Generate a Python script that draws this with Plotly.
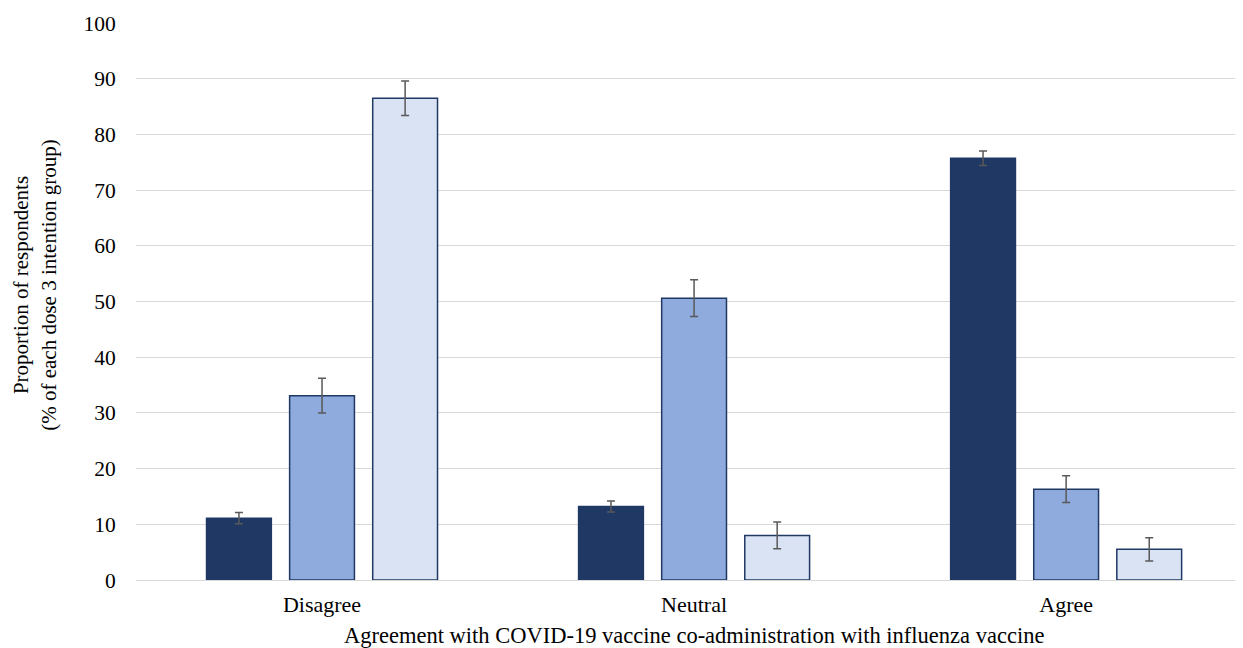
import plotly.graph_objects as go

categories = ["Disagree", "Neutral", "Agree"]
series_names = ["Intend", "Undecided", "Do not intend"]
values_intend = [11.1, 13.2, 75.7]
err_intend = [1.0, 1.0, 1.3]
values_undecided = [33.1, 50.6, 16.3]
err_undecided = [3.1, 3.3, 2.4]
values_notintend = [86.5, 8.0, 5.5]
err_notintend = [3.1, 2.4, 2.1]
y_ticks = [0, 10, 20, 30, 40, 50, 60, 70, 80, 90, 100]

colors = ["#203864", "#8FAADC", "#DAE3F3"]
outline = "#1F3864"
FONT = "Liberation Serif, Times New Roman, serif"

fig = go.Figure()
for name, vals, errs, col in zip(series_names,
                                 [values_intend, values_undecided, values_notintend],
                                 [err_intend, err_undecided, err_notintend],
                                 colors):
    fig.add_trace(go.Bar(
        x=categories, y=vals, name=name,
        marker=dict(color=col, line=dict(color=outline, width=1.5)),
        error_y=dict(type="data", array=errs, visible=True,
                     color="#595959", thickness=1.5, width=4),
        showlegend=False,
    ))

fig.update_layout(
    width=1235, height=640,
    margin=dict(l=128, r=2, t=15, b=68),
    paper_bgcolor="white", plot_bgcolor="white",
    barmode="group", bargap=0.33, bargroupgap=0.22,
    font=dict(family=FONT, size=21, color="#000000"),
    xaxis=dict(range=[-0.5, 2.47], showgrid=False, showline=False,
               ticks="outside", ticklen=0, tickcolor="rgba(0,0,0,0)",
               ticklabelstandoff=5,
               tickfont=dict(family=FONT, size=22, color="#000")),
    yaxis=dict(range=[0, 100], tickvals=y_ticks, showgrid=True,
               gridcolor="#D9D9D9", gridwidth=1, zeroline=True,
               zerolinecolor="#D9D9D9", zerolinewidth=1, showline=False,
               ticks="outside", ticklen=0, tickcolor="rgba(0,0,0,0)",
               ticklabelstandoff=15,
               tickfont=dict(family=FONT, size=21.5, color="#000")),
    annotations=[
        dict(text="Proportion of respondents<br>(% of each dose 3 intention group)",
             xref="paper", yref="paper", x=-0.0914, y=0.53,
             xanchor="center", yanchor="middle", textangle=-90,
             showarrow=False, font=dict(family=FONT, size=21, color="#000")),
        dict(text="Agreement with COVID-19 vaccine co-administration with influenza vaccine",
             xref="paper", yref="paper", x=0.505, y=-0.1005,
             xanchor="center", yanchor="middle",
             showarrow=False, font=dict(family=FONT, size=22.5, color="#000")),
    ],
)

fig.write_html("out.html")
